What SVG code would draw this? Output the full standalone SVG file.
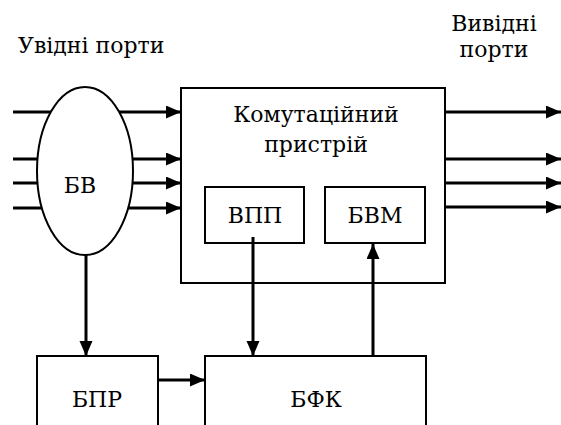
<svg xmlns="http://www.w3.org/2000/svg" width="561" height="425" viewBox="0 0 561 425">
  <defs>
    <marker id="arrow" markerUnits="userSpaceOnUse" markerWidth="16" markerHeight="14" refX="15" refY="6.5" orient="auto">
      <path d="M0,0 L15,6.5 L0,13 Z" fill="#000"/>
    </marker>
    <style>
      .box { fill: #fff; stroke: #000; stroke-width: 2; }
      .wire { fill: none; stroke: #000; stroke-width: 3; }
      .arr { marker-end: url(#arrow); }
      .c { text-anchor: middle; }
    </style>
  </defs>
  <rect width="561" height="425" fill="#fff"/>

  <g font-family="'DejaVu Serif', 'Liberation Serif', serif" font-size="22" fill="#000">
  <!-- port captions -->
  <text id="inputs-label" x="18" y="53">Увідні порти</text>
  <g id="outputs-label">
    <text class="c" x="494" y="31">Вивідні</text>
    <text class="c" x="494" y="57">порти</text>
  </g>

  <!-- switching fabric with its two inner blocks -->
  <g id="switch">
    <rect class="box" x="181" y="88" width="264" height="195"/>
    <text class="c" x="316" y="122">Комутаційний</text>
    <text class="c" x="316" y="152">пристрій</text>
  </g>
  <g id="vpp">
    <rect class="box" x="205" y="187" width="99" height="56"/>
    <text class="c" x="255" y="223">ВПП</text>
  </g>
  <g id="bvm">
    <rect class="box" x="325" y="187" width="100" height="56"/>
    <text class="c" x="375" y="223">БВМ</text>
  </g>

  <g id="connectors">
    <!-- input lines pass behind the buffer ellipse -->
    <line class="wire arr" x1="13" y1="112" x2="181" y2="112"/>
    <line class="wire arr" x1="13" y1="159" x2="181" y2="159"/>
    <line class="wire arr" x1="13" y1="183" x2="181" y2="183"/>
    <line class="wire arr" x1="13" y1="208" x2="181" y2="208"/>
    <!-- output lines -->
    <line class="wire arr" x1="445" y1="112" x2="561" y2="112"/>
    <line class="wire arr" x1="445" y1="159" x2="561" y2="159"/>
    <line class="wire arr" x1="445" y1="183" x2="561" y2="183"/>
    <line class="wire arr" x1="445" y1="207" x2="561" y2="207"/>
    <!-- control paths -->
    <line class="wire arr" x1="86" y1="255" x2="86" y2="356"/>
    <line class="wire arr" x1="253" y1="237" x2="253" y2="356"/>
    <line class="wire arr" x1="373" y1="356" x2="373" y2="244"/>
    <line class="wire arr" x1="158" y1="380" x2="205" y2="380"/>
  </g>

  <g id="bv">
    <ellipse class="box" cx="85" cy="171" rx="48" ry="84"/>
    <text class="c" x="80" y="193">БВ</text>
  </g>
  <g id="bpr">
    <rect class="box" x="37" y="356" width="121" height="80"/>
    <text class="c" x="97" y="407">БПР</text>
  </g>
  <g id="bfk">
    <rect class="box" x="205" y="356" width="221" height="80"/>
    <text class="c" x="316" y="407">БФК</text>
  </g>
  </g>
</svg>
